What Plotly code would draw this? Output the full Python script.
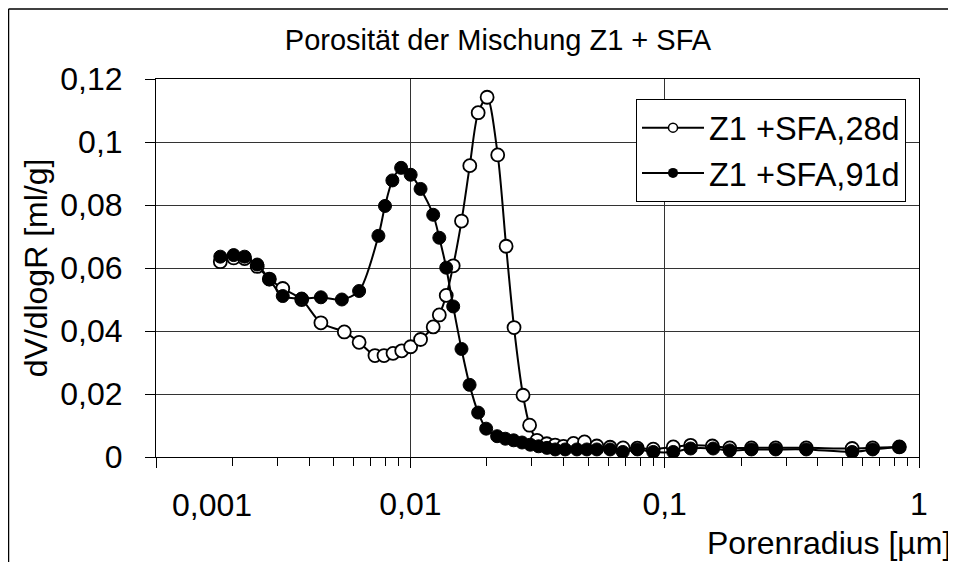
import plotly.graph_objects as go

# ---- data ----
x_28d = [0.00179, 0.00202, 0.00223, 0.00250, 0.00279, 0.00315, 0.00374, 0.00445, 0.00550,
         0.00629, 0.00726, 0.00788, 0.00855, 0.00925, 0.01003, 0.01097, 0.0123, 0.0130,
         0.01384, 0.01474, 0.01589, 0.01713, 0.01848, 0.02004, 0.02206, 0.02380, 0.02557,
         0.02774, 0.02944, 0.03148, 0.0344, 0.0371, 0.0400, 0.0438, 0.0484, 0.0541, 0.0610,
         0.0686, 0.0781, 0.0902, 0.1081, 0.1265, 0.1540, 0.1803, 0.2193, 0.2733, 0.3604,
         0.5460, 0.6577, 0.8370]
y_28d = [0.0620, 0.0632, 0.0630, 0.0605, 0.0565, 0.0535, 0.0500, 0.0426, 0.0397,
         0.0364, 0.0322, 0.0322, 0.0329, 0.0337, 0.0350, 0.0373, 0.0413, 0.0451,
         0.0513, 0.0607, 0.0749, 0.0925, 0.1093, 0.1142, 0.0959, 0.0669, 0.0411,
         0.0196, 0.0101, 0.0053, 0.0042, 0.0038, 0.0034, 0.0043, 0.0048, 0.0035, 0.0031,
         0.0029, 0.0028, 0.0025, 0.0032, 0.0037, 0.0035, 0.0029, 0.0029, 0.0029, 0.0029,
         0.0027, 0.0029, 0.0032]

x_91d = [0.00179, 0.00202, 0.00223, 0.00250, 0.00279, 0.00315, 0.00374, 0.00445, 0.00538,
         0.00629, 0.00749, 0.00795, 0.00850, 0.00920, 0.01003, 0.01097, 0.0123, 0.0130,
         0.01384, 0.01474, 0.01589, 0.01710, 0.01848, 0.01987, 0.02194, 0.02364, 0.02548,
         0.02749, 0.02963, 0.03193, 0.03445, 0.03713, 0.04064, 0.04517, 0.04944, 0.05412,
         0.0610, 0.06843, 0.0781, 0.0902, 0.1081, 0.1265, 0.1551, 0.1803, 0.2193, 0.2733,
         0.3604, 0.5460, 0.6577, 0.8370]
y_91d = [0.0636, 0.0641, 0.0636, 0.0611, 0.0564, 0.0511, 0.0503, 0.0507, 0.0500,
         0.0527, 0.0702, 0.0797, 0.0878, 0.0918, 0.0896, 0.0851, 0.0769, 0.0696,
         0.0601, 0.0478, 0.0343, 0.0229, 0.0141, 0.0090, 0.0066, 0.0058, 0.0053,
         0.0046, 0.0039, 0.0034, 0.0029, 0.0024, 0.0024, 0.0024, 0.0024, 0.0024,
         0.0024, 0.0016, 0.0024, 0.0016, 0.0016, 0.0027, 0.0027, 0.0021, 0.0024, 0.0024,
         0.0024, 0.0016, 0.0024, 0.0032]

series_names = ["Z1 +SFA,28d", "Z1 +SFA,91d"]
x_tickvals = [0.001, 0.01, 0.1, 1]
x_ticktext = ["", "0,01", "0,1", "1"]
y_tickvals = [0, 0.02, 0.04, 0.06, 0.08, 0.1, 0.12]
y_ticktext = ["0", "0,02", "0,04", "0,06", "0,08", "0,1", "0,12"]

title_text = "Porosität der Mischung Z1 + SFA"
x_title = "Porenradius [µm]"
y_title = "dV/dlogR [ml/g]"

FONT = "Liberation Sans, Arial, sans-serif"

fig = go.Figure()

# data traces
fig.add_trace(go.Scatter(
    x=x_28d, y=y_28d, mode="lines+markers", showlegend=False,
    line=dict(color="black", width=2, shape="spline", smoothing=0.8),
    marker=dict(symbol="circle", size=13, color="white", line=dict(color="black", width=1.8)),
))
fig.add_trace(go.Scatter(
    x=x_91d, y=y_91d, mode="lines+markers", showlegend=False,
    line=dict(color="black", width=2, shape="spline", smoothing=0.8),
    marker=dict(symbol="circle", size=13, color="black", line=dict(color="black", width=1)),
))
# legend entries (smaller markers as in the reference legend)
fig.add_trace(go.Scatter(
    x=[None], y=[None], mode="lines+markers", name=series_names[0],
    line=dict(color="black", width=2),
    marker=dict(symbol="circle", size=9, color="white", line=dict(color="black", width=1.5)),
))
fig.add_trace(go.Scatter(
    x=[None], y=[None], mode="lines+markers", name=series_names[1],
    line=dict(color="black", width=2),
    marker=dict(symbol="circle", size=10, color="black"),
))

# page offset (html body margin) -> figure pixel coordinates
OFF = 8
W, H = 948, 554
L = 156 - OFF
T = 79 - OFF
R = W - (919 - OFF)
B = H - (456.7 - OFF)
pw, ph = W - L - R, H - T - B

def px_to_paper_x(page_px):
    return (page_px - OFF - L) / pw

def px_to_paper_y(page_py):
    return (H - B - (page_py - OFF)) / ph

fig.update_layout(
    width=W, height=H,
    margin=dict(l=L, r=R, t=T, b=B, pad=0),
    paper_bgcolor="white", plot_bgcolor="white",
    font=dict(family=FONT, size=32, color="black"),
    title=dict(text=title_text, x=(498 - OFF) / W, xanchor="center",
               y=1 - (40 - OFF) / H, yanchor="middle",
               font=dict(family=FONT, size=29)),
    showlegend=True,
    legend=dict(x=px_to_paper_x(636), y=px_to_paper_y(99), xanchor="left", yanchor="top",
                bgcolor="white", bordercolor="black", borderwidth=1,
                font=dict(family=FONT, size=32.5), itemwidth=62, tracegroupgap=0),
)

fig.update_xaxes(
    type="log", range=[-3, 0],
    tickvals=x_tickvals, ticktext=x_ticktext,
    ticks="outside", ticklen=10, tickwidth=1, tickcolor="black",
    minor=dict(ticks="outside", ticklen=8, tickcolor="black", dtick="D1", showgrid=False),
    showgrid=True, gridcolor="#333", gridwidth=1,
    showline=True, linecolor="black", linewidth=1, mirror=True,
    zeroline=False, tickfont=dict(size=32), ticklabelstandoff=9,
)
fig.update_yaxes(
    range=[0, 0.12],
    tickvals=y_tickvals, ticktext=y_ticktext,
    ticks="outside", ticklen=10, tickwidth=1, tickcolor="black",
    showgrid=True, gridcolor="#333", gridwidth=1,
    showline=True, linecolor="black", linewidth=1, mirror=True,
    zeroline=False, tickfont=dict(size=32), ticklabelstandoff=16,
    title=dict(text=y_title, font=dict(size=32), standoff=3),
)

# shifted first x label and x axis title (as in reference)
fig.add_annotation(x=-2.78, xref="x", y=px_to_paper_y(505), yref="paper",
                   text="0,001", showarrow=False, font=dict(size=32),
                   xanchor="center", yanchor="middle")
fig.add_annotation(x=px_to_paper_x(953), xref="paper", y=px_to_paper_y(543), yref="paper",
                   text=x_title, showarrow=False, font=dict(size=32),
                   xanchor="right", yanchor="middle")

# outer chart-area frame (top and left edges visible in reference)
fx0, fy0 = px_to_paper_x(8.5), px_to_paper_y(9)
fig.add_shape(type="line", xref="paper", yref="paper", x0=fx0, y0=fy0, x1=px_to_paper_x(970), y1=fy0,
              line=dict(color="black", width=1.5))
fig.add_shape(type="line", xref="paper", yref="paper", x0=fx0, y0=fy0, x1=fx0, y1=px_to_paper_y(580),
              line=dict(color="black", width=1.5))

fig.write_html("out.html")
